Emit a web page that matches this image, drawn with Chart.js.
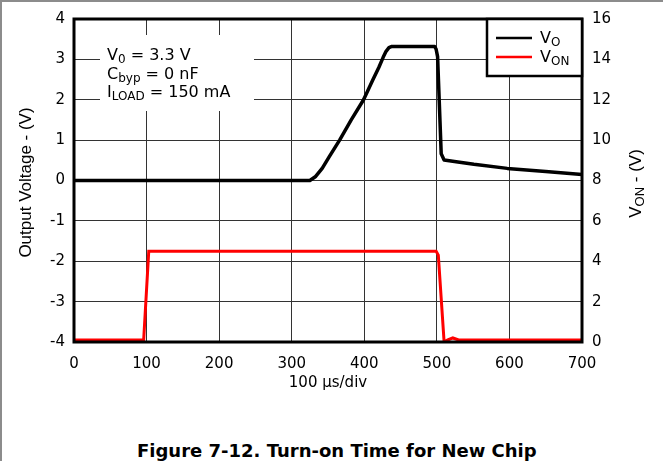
<!DOCTYPE html>
<html>
<head>
<meta charset="utf-8">
<script src="https://cdn.jsdelivr.net/npm/chart.js@4.4.0/dist/chart.umd.min.js"></script>
<style>
    html, body { margin: 0; padding: 0; background: #fff; }
    #fig { position: relative; width: 663px; height: 461px; overflow: hidden; }
    #frame { position: absolute; left: 0; top: 0; width: 663px; height: 461px; box-sizing: border-box;
             border-top: 2px solid #8c8c8c; border-left: 2px solid #8c8c8c; }
    #plot { position: absolute; left: 0; top: 0; }
    #caption { position: absolute; left: 137px; top: 442px; line-height: 18px; white-space: nowrap;
               font-family: "DejaVu Sans"; font-weight: bold; font-size: 18px; color: #000; }
</style>
</head>
<body>
<div id="fig">
    <div id="frame"></div>
    <canvas id="plot" width="663" height="400"></canvas>
    <div id="caption">Figure 7-12. Turn-on Time for New Chip</div>
</div>
<script>
// V_O trace (left axis, volts) against time (x100 us/div scale)
const timeVo = [0, 325, 333, 342, 352, 366, 382, 399, 412, 420, 426, 430, 434, 438, 470, 497, 499, 501, 506, 510, 529, 551, 597, 650, 700];
const valueVo = [0, 0, 0.1, 0.3, 0.6, 1.0, 1.5, 2.0, 2.5, 2.8, 3.05, 3.2, 3.29, 3.32, 3.32, 3.32, 3.25, 3.07, 0.66, 0.51, 0.46, 0.40, 0.30, 0.22, 0.15];

// V_ON trace (right axis, volts)
const timeVon = [0, 96, 103, 499, 502, 510, 515, 522, 530, 700];
const valueVon = [0.1, 0.1, 4.5, 4.5, 4.3, 0, 0.1, 0.2, 0.1, 0.1];

const timeTicks = [0, 100, 200, 300, 400, 500, 600, 700];
const leftTicks = [-4, -3, -2, -1, 0, 1, 2, 3, 4];
const rightTicks = [0, 2, 4, 6, 8, 10, 12, 14, 16];

const seriesNames = ['V', 'V'];
const seriesSubs = ['O', 'ON'];
const seriesColors = ['#000000', '#ff0000'];

const noteLines = [
    [['V', false], ['0', true], [' = 3.3 V', false]],
    [['C', false], ['byp', true], [' = 0 nF', false]],
    [['I', false], ['LOAD', true], [' = 150 mA', false]]
];

const tickFont = { family: 'DejaVu Sans', size: 15 };

function toPoints(xs, ys) {
    return xs.map(function(x, i) { return { x: x, y: ys[i] }; });
}

// draws text with subscript runs, returns end x
function drawRuns(ctx, runs, x, y, size, subSize, family) {
    let cx = x;
    runs.forEach(function(r) {
        ctx.font = (r[1] ? subSize : size) + 'px ' + family;
        ctx.fillText(r[0], cx, r[1] ? y + 3 : y);
        cx += ctx.measureText(r[0]).width;
    });
    return cx;
}

function runsWidth(ctx, runs, size, subSize, family) {
    let w = 0;
    runs.forEach(function(r) {
        ctx.font = (r[1] ? subSize : size) + 'px ' + family;
        w += ctx.measureText(r[0]).width;
    });
    return w;
}

const decorPlugin = {
    id: 'decor',
    beforeDatasetsDraw(chart) {
        const ctx = chart.ctx;
        const a = chart.chartArea;
        ctx.save();
        // note box hides the grid behind it
        ctx.fillStyle = '#fff';
        ctx.fillRect(a.left + 26, a.top + 16, 154, 76);
        ctx.fillStyle = '#000';
        ctx.textBaseline = 'alphabetic';
        noteLines.forEach(function(line, i) {
            drawRuns(ctx, line, a.left + 33, a.top + 41 + i * 18.5, 16, 12, '"DejaVu Sans"');
        });
        ctx.restore();
    },
    afterDatasetsDraw(chart) {
        const ctx = chart.ctx;
        const a = chart.chartArea;
        ctx.save();
        // plot frame
        ctx.strokeStyle = '#000';
        ctx.lineWidth = 3;
        ctx.strokeRect(a.left, a.top, a.right - a.left, a.bottom - a.top);

        // legend
        const lx = a.right - 95, ly = a.top;
        ctx.fillStyle = '#fff';
        ctx.fillRect(lx, ly, 95, 57);
        ctx.lineWidth = 2.5;
        ctx.strokeRect(lx, ly, 95, 57);
        seriesNames.forEach(function(name, i) {
            const y = ly + 19 + i * 19;
            ctx.strokeStyle = seriesColors[i];
            ctx.lineWidth = 2.5;
            ctx.beginPath();
            ctx.moveTo(lx + 9, y);
            ctx.lineTo(lx + 45, y);
            ctx.stroke();
            ctx.fillStyle = '#000';
            ctx.textBaseline = 'alphabetic';
            drawRuns(ctx, [[name, false], [seriesSubs[i], true]], lx + 53, y + 5, 16, 12, '"DejaVu Sans"');
        });

        // x axis title
        ctx.fillStyle = '#000';
        ctx.font = '15px "DejaVu Sans"';
        ctx.textAlign = 'center';
        ctx.textBaseline = 'alphabetic';
        ctx.fillText('100 \u03bcs/div', (a.left + a.right) / 2, 387);

        // left axis title
        const cy = (a.top + a.bottom) / 2;
        ctx.save();
        ctx.translate(31, cy + 2);
        ctx.rotate(-Math.PI / 2);
        ctx.font = '17px "Liberation Sans"';
        ctx.textAlign = 'center';
        ctx.fillText('Output Voltage - (V)', 0, 0);
        ctx.restore();

        // right axis title with subscript
        const runs = [['V', false], ['ON', true], [' - (V)', false]];
        ctx.save();
        ctx.translate(641, cy + 3);
        ctx.rotate(-Math.PI / 2);
        ctx.textAlign = 'left';
        const w = runsWidth(ctx, runs, 17, 13, '"Liberation Sans"');
        drawRuns(ctx, runs, -w / 2, 0, 17, 13, '"Liberation Sans"');
        ctx.restore();

        ctx.restore();
    }
};

function fixedTicks(list) {
    return function(scale) {
        scale.ticks = list.map(function(v) { return { value: v }; });
    };
}

const ctx = document.getElementById('plot').getContext('2d');
const chart = new Chart(ctx, {
    type: 'line',
    data: {
        datasets: [{
            label: 'VO',
            data: toPoints(timeVo, valueVo),
            yAxisID: 'y',
            borderColor: seriesColors[0],
            borderWidth: 3.5,
            borderJoinStyle: 'round',
            pointRadius: 0,
            tension: 0,
            order: 2
        }, {
            label: 'VON',
            data: toPoints(timeVon, valueVon),
            yAxisID: 'y2',
            borderColor: seriesColors[1],
            borderWidth: 3,
            pointRadius: 0,
            tension: 0,
            order: 1
        }]
    },
    options: {
        responsive: false,
        animation: false,
        layout: { padding: { top: 19, left: 0, right: 0, bottom: 0 } },
        plugins: {
            legend: { display: false },
            tooltip: { enabled: false }
        },
        scales: {
            x: {
                type: 'linear',
                position: 'bottom',
                min: 0,
                max: 700,
                afterBuildTicks: fixedTicks(timeTicks),
                afterFit: function(s) { s.height = 58; },
                grid: { color: '#333', lineWidth: 1, drawTicks: false },
                border: { display: false },
                ticks: { color: '#000', font: tickFont, padding: 13, maxRotation: 0 }
            },
            y: {
                type: 'linear',
                position: 'left',
                min: -4,
                max: 4,
                afterBuildTicks: fixedTicks(leftTicks),
                afterFit: function(s) { s.width = 74; },
                grid: { color: '#333', lineWidth: 1, drawTicks: false },
                border: { display: false },
                ticks: { color: '#000', font: tickFont, padding: 9 }
            },
            y2: {
                type: 'linear',
                position: 'right',
                min: 0,
                max: 16,
                afterBuildTicks: fixedTicks(rightTicks),
                afterFit: function(s) { s.width = 81; },
                grid: { display: false, drawTicks: false },
                border: { display: false },
                ticks: { color: '#000', font: tickFont, padding: 10 }
            }
        }
    },
    plugins: [decorPlugin]
});
</script>
</body>
</html>
